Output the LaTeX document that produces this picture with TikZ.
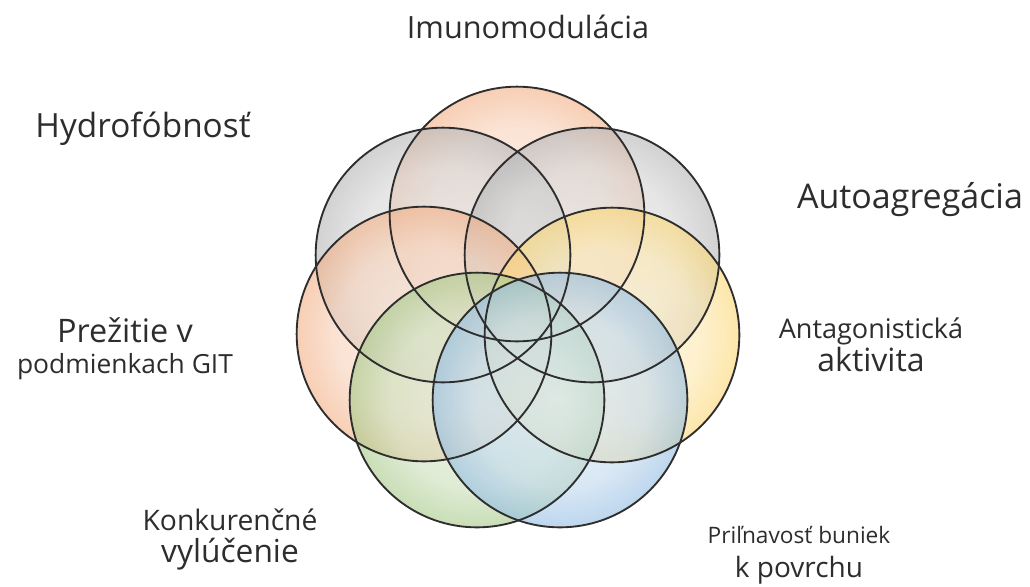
\documentclass[tikz,border=0pt]{standalone}
\usepackage{fontspec}
\setmainfont{Open Sans}
\usetikzlibrary{positioning}

\definecolor{orangeb}{RGB}{232,115,40}
\definecolor{grayb}{RGB}{125,125,128}
\definecolor{yellowb}{RGB}{247,184,10}
\definecolor{greenb}{RGB}{98,160,45}
\definecolor{blueb}{RGB}{65,138,205}
\definecolor{labeltext}{RGB}{45,45,45}

\colorlet{bubcol}{grayb}
\pgfdeclareradialshading[bubcol]{bubble}{\pgfpoint{0bp}{0bp}}{%
  color(0bp)=(bubcol!18!white); color(17bp)=(bubcol!32!white);
  color(27bp)=(bubcol!62!white); color(34bp)=(bubcol); color(50bp)=(bubcol)}

\tikzset{
  bub/.code={\colorlet{bubcol}{#1}},
  bubble fill/.style={bub=#1, shading=bubble, fill opacity=0.62},
  rim/.style={draw=black!82, line width=1.4pt},
  lbl/.style={text=labeltext, inner sep=0pt, anchor=base},
}
\newcommand{\fs}[1]{\fontsize{#1}{#1}\selectfont}
\def\rr{95.5pt}

\begin{document}
\begin{tikzpicture}[x=0.75pt,y=-0.75pt]
			\useasboundingbox (0,0) rectangle (1030,586);
			\coordinate (imuno) at (517,214);
			\coordinate (hydro) at (443,255);
			\coordinate (auto) at (592,255);
			\coordinate (prez) at (424,334);
			\coordinate (anta) at (612,335);
			\coordinate (konk) at (477,400);
			\coordinate (pril) at (560,400);
			\shade[bubble fill=orangeb] (imuno) circle[radius=\rr];
			\shade[bubble fill=grayb] (hydro) circle[radius=\rr];
			\shade[bubble fill=grayb] (auto) circle[radius=\rr];
			\shade[bubble fill=orangeb] (prez) circle[radius=\rr];
			\shade[bubble fill=yellowb] (anta) circle[radius=\rr];
			\shade[bubble fill=greenb] (konk) circle[radius=\rr];
			\shade[bubble fill=blueb] (pril) circle[radius=\rr];
			\foreach \c in {imuno,hydro,auto,prez,anta,konk,pril}
				\draw[rim] (\c) circle[radius=\rr];
			\node[lbl, font=\fs{23}] (timuno) at (528,38) {Imunomodulácia};
			\node[lbl, font=\fs{25}] (thydro) at (143,137) {Hydrofóbnosť};
			\node[lbl, font=\fs{25.5}] (tauto) at (910,208) {Autoagregácia};
			\node[lbl, font=\fs{20.3}] (tanta) at (871,338) {Antagonistická};
			\node[lbl, font=\fs{24}, below=24.75pt of tanta.base, anchor=base] (tanta2) {aktivita};
			\node[lbl, font=\fs{24.3}] (tprez) at (125,342) {Prežitie v};
			\node[lbl, font=\fs{19.8}, below=23.25pt of tprez.base, anchor=base] (tprez2) {podmienkach GIT};
			\node[lbl, font=\fs{21.2}] (tkonk) at (230,530) {Konkurenčné};
			\node[lbl, font=\fs{23.8}, below=24pt of tkonk.base, anchor=base] (tkonk2) {vylúčenie};
			\node[lbl, font=\fs{17}] (tpril) at (799,543) {Priľnavosť buniek};
			\node[lbl, font=\fs{21}, below=25.5pt of tpril.base, anchor=base] (tpril2) {k povrchu};
		\end{tikzpicture}
\end{document}
